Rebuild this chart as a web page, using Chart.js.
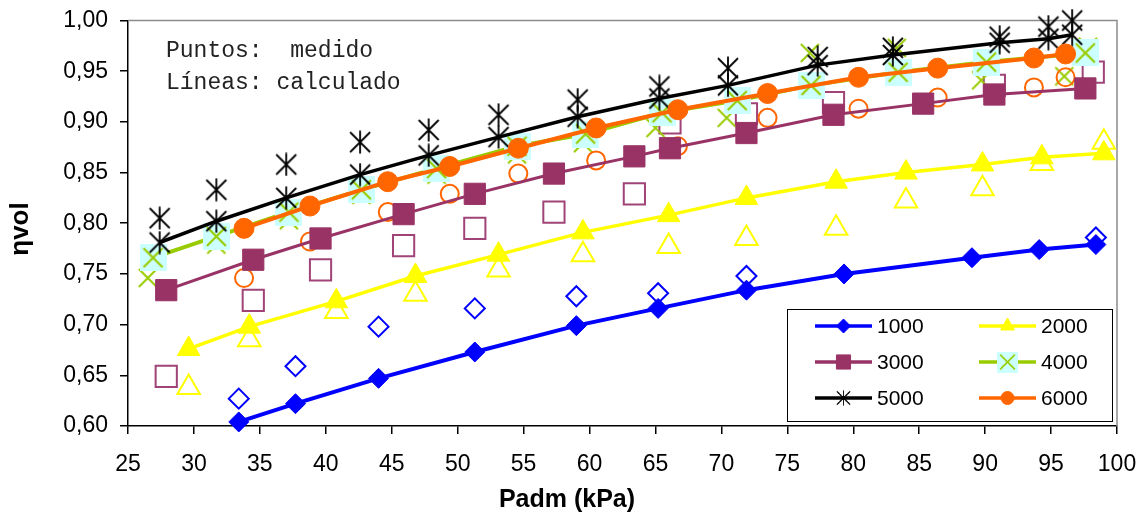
<!DOCTYPE html>
<html>
<head>
<meta charset="utf-8">
<script src="https://cdn.jsdelivr.net/npm/chart.js@4.4.1/dist/chart.umd.min.js"></script>
<style>
html,body{margin:0;padding:0;background:#fff}
#wrap{width:1144px;height:520px;position:relative}
</style>
</head>
<body>
<div id="wrap"><canvas id="c" width="1144" height="520"></canvas></div>
<script>
// rpm series: lines = calculado, hollow points = medido
const P_1000=[33.4,37.7,44.0,51.3,59.0,65.2,71.9,79.3,89.0,94.1,98.4];
const CALC_1000=[0.604,0.622,0.647,0.673,0.699,0.716,0.734,0.750,0.766,0.774,0.779];
const PM_1000=[33.4,37.7,44.0,51.3,59.0,65.2,71.9,98.4];
const MED_1000=[0.627,0.659,0.698,0.716,0.728,0.731,0.748,0.786];

const P_2000=[29.6,34.2,40.8,46.8,53.1,59.5,66.0,71.9,78.7,84.0,89.8,94.3,99.0];
const CALC_2000=[0.676,0.698,0.723,0.748,0.769,0.791,0.808,0.825,0.841,0.850,0.858,0.865,0.869];
const PM_2000=[29.6,34.2,40.8,46.8,53.1,59.5,66.0,71.9,78.7,84.0,89.8,94.3,99.0];
const MED_2000=[0.638,0.685,0.713,0.730,0.754,0.769,0.777,0.785,0.795,0.822,0.834,0.859,0.880];

const P_3000=[27.9,34.5,39.6,45.9,51.3,57.3,63.4,66.1,71.9,78.5,85.3,90.7,97.6];
const CALC_3000=[0.734,0.764,0.785,0.809,0.829,0.849,0.866,0.874,0.889,0.907,0.918,0.927,0.933];
const PM_3000=[27.9,34.5,39.6,45.9,51.3,57.3,63.4,66.1,71.9,78.5,90.7,98.2];
const MED_3000=[0.649,0.724,0.754,0.778,0.795,0.811,0.829,0.899,0.908,0.919,0.936,0.949];

const P_4000=[26.9,31.7,37.2,42.7,48.4,54.5,59.7,65.5,71.2,76.8,83.4,90.1,97.6];
const CALC_4000=[0.766,0.787,0.811,0.833,0.854,0.876,0.888,0.909,0.921,0.936,0.949,0.959,0.968];
const PM_4000=[26.5,31.7,37.2,42.7,48.4,54.5,59.5,65.0,70.4,76.7,83.3,89.7,96.0,97.8];
const MED_4000=[0.746,0.779,0.803,0.828,0.848,0.868,0.879,0.894,0.904,0.968,0.973,0.941,0.945,0.974];

const P_5000=[27.4,31.7,37.0,42.6,47.8,53.1,59.1,65.3,70.5,77.3,83.0,91.1,94.8,96.6];
const CALC_5000=[0.781,0.802,0.825,0.848,0.867,0.885,0.905,0.923,0.936,0.956,0.966,0.978,0.982,0.986];
const PM_5000=[27.4,31.7,37.0,42.6,47.8,53.1,59.1,65.3,70.5,77.3,83.0,91.1,94.8,96.6];
const MED_5000=[0.805,0.833,0.858,0.880,0.892,0.907,0.922,0.935,0.953,0.964,0.973,0.984,0.994,1.000];

const P_6000=[33.8,38.8,44.7,49.4,54.6,60.5,66.7,73.5,80.4,86.4,93.7,96.1];
const CALC_6000=[0.795,0.817,0.841,0.856,0.874,0.894,0.912,0.928,0.944,0.953,0.963,0.967];
const PM_6000=[33.8,38.8,44.7,49.4,54.6,60.5,66.7,73.5,80.4,86.4,93.7,96.1];
const MED_6000=[0.746,0.782,0.811,0.829,0.849,0.862,0.876,0.904,0.913,0.924,0.934,0.944];

const X_MIN=25, X_MAX=100, X_STEP=5;
const Y_MIN=0.60, Y_MAX=1.00, Y_STEP=0.05;

const pts=(xs,ys)=>xs.map((x,i)=>({x,y:ys[i]}));

function markerCanvas(w,h,draw){
  const c=document.createElement('canvas');c.width=w;c.height=h;
  draw(c.getContext('2d'),w,h);return c;
}
const asterisk=markerCanvas(24,24,g=>{
  g.strokeStyle='#000';g.lineWidth=1.8;g.beginPath();
  g.moveTo(12,0.5);g.lineTo(12,23.5);g.moveTo(2,2);g.lineTo(22,22);g.moveTo(22,2);g.lineTo(2,22);g.stroke();
});
const cyanX=markerCanvas(27,27,g=>{
  g.fillStyle='#CCFFFF';g.fillRect(0,0,27,27);
  g.strokeStyle='#99CC00';g.lineWidth=2.2;g.beginPath();
  g.moveTo(4,4);g.lineTo(23,23);g.moveTo(23,4);g.lineTo(4,23);g.stroke();
});
const greenX=markerCanvas(22,22,g=>{
  g.strokeStyle='#99CC00';g.lineWidth=2;g.beginPath();
  g.moveTo(2,2);g.lineTo(20,20);g.moveTo(20,2);g.lineTo(2,20);g.stroke();
});

function calc(label,data,color,style,r,width,order){
  return {label,data,borderColor:color,backgroundColor:color,borderWidth:width,
    pointStyle:style,pointRadius:r,pointBackgroundColor:color,pointBorderColor:color,pointBorderWidth:1,
    showLine:true,tension:0,clip:false,order};
}
function medido(label,data,color,style,r,order){
  return {label,data,borderColor:color,backgroundColor:'rgba(0,0,0,0)',showLine:false,
    pointStyle:style,pointRadius:r,pointBackgroundColor:'rgba(0,0,0,0)',pointBorderColor:color,pointBorderWidth:2,
    clip:false,order};
}

const datasets=[
  calc('1000',pts(P_1000,CALC_1000),'#0000FF','rectRot',10,4,6),
  calc('2000',pts(P_2000,CALC_2000),'#FFFF00','triangle',13,3.5,5),
  calc('3000',pts(P_3000,CALC_3000),'#993366','rect',15,3,4),
  calc('4000',pts(P_4000,CALC_4000),'#99CC00',cyanX,13,4,3),
  calc('5000',pts(P_5000,CALC_5000),'#000000',asterisk,12,3.5,2),
  calc('6000',pts(P_6000,CALC_6000),'#FF6600','circle',10,4,1),
  medido('1000 med',pts(PM_1000,MED_1000),'#0000FF','rectRot',10,12),
  medido('2000 med',pts(PM_2000,MED_2000),'#FFFF00','triangle',13,11),
  medido('3000 med',pts(PM_3000,MED_3000),'#A04478','rect',15,10),
  medido('4000 med',pts(PM_4000,MED_4000),'#99CC00',greenX,11,9),
  medido('5000 med',pts(PM_5000,MED_5000),'#000000',asterisk,12,8),
  medido('6000 med',pts(PM_6000,MED_6000),'#FF6600','circle',9,7)
];

const LEGEND=[
  {label:'1000',color:'#0000FF',style:'rectRot',r:7,col:0,row:0},
  {label:'2000',color:'#FFFF00',style:'triangle',r:8,col:1,row:0},
  {label:'3000',color:'#993366',style:'rect',r:10,col:0,row:1},
  {label:'4000',color:'#99CC00',img:cyanX,size:21,col:1,row:1},
  {label:'5000',color:'#000000',img:asterisk,size:16,col:0,row:2},
  {label:'6000',color:'#FF6600',style:'circle',r:6.5,col:1,row:2}
];

const decor={
  id:'decor',
  beforeDatasetsDraw(chart){
    const {ctx,chartArea:a}=chart;
    ctx.save();
    ctx.strokeStyle='#8c8c8c';ctx.lineWidth=1.5;
    ctx.beginPath();ctx.moveTo(a.left,a.top);ctx.lineTo(a.right,a.top);ctx.lineTo(a.right,a.bottom);ctx.stroke();
    ctx.fillStyle='#222';ctx.font='23px "Liberation Mono", "Courier New", monospace';
    ctx.textAlign='left';ctx.textBaseline='alphabetic';
    ctx.fillText('Puntos:  medido',166,57);
    ctx.fillText('Líneas: calculado',166,89);
    ctx.restore();
  },
  afterDraw(chart){
    const {ctx}=chart;
    ctx.save();
    // axis titles
    ctx.fillStyle='#000';ctx.font='bold 25px "Liberation Sans", Arial, sans-serif';
    ctx.textAlign='center';ctx.textBaseline='middle';
    ctx.fillText('Padm (kPa)',567,500);
    ctx.font='bold 26px "Liberation Sans", Arial, sans-serif';
    ctx.translate(21,229);ctx.rotate(-Math.PI/2);
    ctx.fillText('ηvol',0,0);
    ctx.restore();
    // legend box
    ctx.save();
    ctx.fillStyle='#fff';ctx.fillRect(787.5,309.5,325,112);
    ctx.strokeStyle='#000';ctx.lineWidth=1;ctx.strokeRect(787.5,309.5,325,112);
    const rows=[326,362,398], cols=[{l:815,r:872,t:877},{l:979,r:1036,t:1041}];
    ctx.font='21px "Liberation Sans", Arial, sans-serif';ctx.textBaseline='middle';ctx.textAlign='left';
    LEGEND.forEach(e=>{
      const c=cols[e.col], y=rows[e.row], mx=(c.l+c.r)/2;
      ctx.strokeStyle=e.color;ctx.lineWidth=3.5;
      ctx.beginPath();ctx.moveTo(c.l,y);ctx.lineTo(c.r,y);ctx.stroke();
      if(e.img){
        ctx.drawImage(e.img,mx-e.size/2,y-e.size/2,e.size,e.size);
      }else{
        ctx.fillStyle=e.color;ctx.strokeStyle=e.color;ctx.lineWidth=1;
        Chart.helpers.drawPoint(ctx,{pointStyle:e.style,radius:e.r,borderWidth:1,rotation:0},mx,y);
      }
      ctx.fillStyle='#000';ctx.fillText(e.label,c.t,y+1);
    });
    ctx.restore();
  }
};

Chart.defaults.font.family='"Liberation Sans", Arial, sans-serif';
Chart.defaults.color='#000';

new Chart(document.getElementById('c'),{
  type:'line',
  data:{datasets},
  options:{
    responsive:false,devicePixelRatio:1,animation:false,events:[],
    layout:{autoPadding:false,padding:{left:0,top:20.5,right:27,bottom:0}},
    plugins:{legend:{display:false},tooltip:{enabled:false}},
    scales:{
      x:{type:'linear',min:X_MIN,max:X_MAX,
        ticks:{stepSize:X_STEP,font:{size:23},color:'#000',padding:17,maxRotation:0},
        grid:{drawOnChartArea:false,color:'#000',tickLength:8,lineWidth:1.5},
        border:{color:'#000',width:1.5},
        afterFit(s){s.height=94;s.paddingLeft=0;s.paddingRight=0;}},
      y:{type:'linear',min:Y_MIN,max:Y_MAX,
        ticks:{stepSize:Y_STEP,font:{size:23},color:'#000',padding:12,
          callback:v=>v.toFixed(2).replace('.',',')},
        grid:{drawOnChartArea:false,color:'#000',tickLength:8,lineWidth:1.5},
        border:{color:'#000',width:1.5},
        afterFit(s){s.width=128;s.paddingTop=0;s.paddingBottom=0;}}
    }
  },
  plugins:[decor]
});
</script>
</body>
</html>
